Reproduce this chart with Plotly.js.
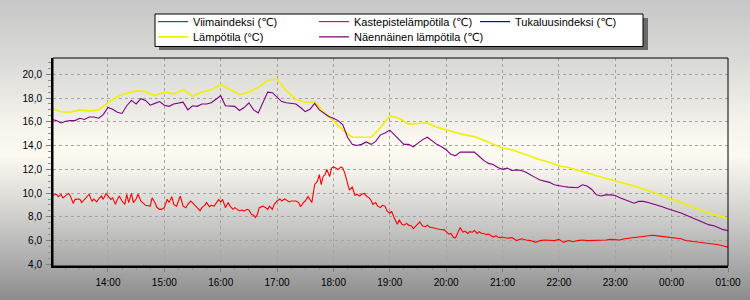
<!DOCTYPE html>
<html>
<head>
<meta charset="utf-8">
<script src="https://cdn.plot.ly/plotly-3.0.1.min.js"></script>
<style>
  html, body { margin:0; padding:0; }
  body { width:750px; height:300px; position:relative; overflow:hidden;
    background: linear-gradient(to bottom, #c6c6c6 0%, #dadad8 20%, #f6f4ec 42%, #fbf9f0 52%, #dddcd8 66%, #b4b4b4 84%, #8c8c8c 100%); }
  #plotbg { position:absolute; left:53px; top:58px; width:675px; height:208px;
    background: linear-gradient(to bottom, #d8d8d6 0%, #eae9e4 25%, #fffcf2 43%, #f3f1ea 55%, #d0d0ce 75%, #a6a6a6 100%); }
  #chart { position:absolute; left:0; top:0; width:750px; height:300px; }
</style>
</head>
<body>
<div id="plotbg"></div>
<div id="chart"></div>
<script>
// Lämpötila (°C) - 10 min steps
const tempTimes = ['13:00','13:10','13:20','13:30','13:40','13:50','14:00','14:10','14:20','14:30','14:40','14:50',
  '15:00','15:10','15:20','15:30','15:40','15:50','16:00','16:10','16:20','16:30','16:40','16:50',
  '17:00','17:10','17:20','17:30','17:40','17:50','18:00','18:10','18:20','18:30','18:40','18:50',
  '19:00','19:10','19:20','19:30','19:40','19:50','20:00','20:10','20:20','20:30','20:40','20:50',
  '21:00','21:10','21:20','21:30','21:40','21:50','22:00','22:10','22:20','22:30','22:40','22:50',
  '23:00','23:10','23:20','23:30','23:40','23:50','00:00','00:10','00:20','00:30','00:40','00:50','01:00'];
const tempValues = [17.1,16.85,16.8,17.0,16.9,17.0,17.6,18.1,18.4,18.6,18.55,18.2,
  18.5,18.35,18.7,18.15,18.5,18.7,19.15,18.75,18.3,18.5,18.9,19.5,
  19.6,18.6,17.9,17.65,17.7,16.8,16.1,15.3,14.7,14.7,14.7,15.5,
  16.5,16.3,15.8,15.85,15.9,15.55,15.3,15.1,14.9,14.75,14.45,14.1,
  13.8,13.65,13.35,13.1,12.8,12.6,12.3,12.15,11.95,11.7,11.45,11.25,
  11.05,10.85,10.6,10.35,10.1,9.8,9.5,9.2,8.9,8.55,8.3,8.1,7.85];

// Näennäinen lämpötila (°C) - 5 min steps
const apparentTimes = ['13:00','13:05','13:10','13:15','13:20','13:25','13:30','13:35','13:40','13:45','13:50','13:55',
  '14:00','14:05','14:10','14:15','14:20','14:25','14:30','14:35','14:40','14:45','14:50','14:55',
  '15:00','15:05','15:10','15:15','15:20','15:25','15:30','15:35','15:40','15:45','15:50','15:55',
  '16:00','16:05','16:10','16:15','16:20','16:25','16:30','16:35','16:40','16:45','16:50','16:55',
  '17:00','17:05','17:10','17:15','17:20','17:25','17:30','17:35','17:40','17:45','17:50','17:55',
  '18:00','18:05','18:10','18:15','18:20','18:25','18:30','18:35','18:40','18:45','18:50','18:55',
  '19:00','19:05','19:10','19:15','19:20','19:25','19:30','19:35','19:40','19:45','19:50','19:55',
  '20:00','20:05','20:10','20:15','20:20','20:25','20:30','20:35','20:40','20:45','20:50','20:55',
  '21:00','21:05','21:10','21:15','21:20','21:25','21:30','21:35','21:40','21:45','21:50','21:55',
  '22:00','22:05','22:10','22:15','22:20','22:25','22:30','22:35','22:40','22:45','22:50','22:55',
  '23:00','23:05','23:10','23:15','23:20','23:25','23:30','23:35','23:40','23:45','23:50','23:55',
  '00:00','00:05','00:10','00:15','00:20','00:25','00:30','00:35','00:40','00:45','00:50','00:55','01:00'];
const apparentValues = [16.2,16.1,15.9,16.05,16.1,16.1,16.3,16.2,16.4,16.4,16.3,16.6,
  17.2,17.05,16.8,16.7,17.35,17.8,17.5,17.95,17.8,17.4,17.55,17.7,
  17.4,17.3,17.5,17.6,17.65,17.0,17.35,17.3,17.5,17.5,17.6,17.9,
  18.2,17.35,17.35,17.3,16.95,17.2,17.6,17.0,16.75,17.7,18.5,18.45,
  18.1,17.7,17.6,17.55,17.5,17.2,16.85,17.05,17.55,17.0,16.7,16.45,
  16.3,16.1,15.75,14.7,14.1,14.0,14.1,14.3,14.1,14.35,14.9,15.05,
  15.3,14.9,14.5,14.1,14.1,13.9,14.2,14.5,14.7,14.4,14.1,13.9,
  13.65,13.25,13.15,13.45,13.45,13.5,13.45,13.1,12.75,12.5,12.4,12.15,
  12.0,12.1,11.9,11.95,11.9,11.75,11.5,11.3,11.1,11.0,10.9,10.7,
  10.6,10.55,10.5,10.5,10.45,10.7,10.6,10.3,9.85,9.75,9.85,9.85,
  9.8,9.6,9.45,9.3,9.15,9.3,9.3,9.2,9.1,8.95,8.85,8.7,
  8.55,8.45,8.32,8.15,7.97,7.82,7.6,7.48,7.32,7.25,7.1,6.92,6.85];

// Kastepistelämpötila (°C)
const dewTimes = ['13:00','13:05','13:07','13:10','13:12','13:15','13:18','13:20','13:23','13:25','13:30','13:32','13:35','13:40','13:43','13:45','13:48','13:50','13:53','13:55','13:58',
  '14:00','14:03','14:05','14:08','14:10','14:12','14:15','14:18','14:20','14:22','14:25','14:27','14:30','14:32','14:35','14:40','14:45','14:47','14:50','14:52','14:55','14:57',
  '15:00','15:03','15:05','15:08','15:10','15:13','15:15','15:17','15:20','15:23','15:25','15:28','15:30','15:33','15:35','15:38','15:40','15:43','15:45','15:48','15:50','15:53','15:55','15:58',
  '16:00','16:02','16:05','16:08','16:10','16:13','16:15','16:18','16:20','16:22','16:25','16:28','16:30','16:33','16:35','16:37','16:39','16:41','16:45','16:48','16:50','16:52','16:55','16:57',
  '17:00','17:03','17:05','17:08','17:10','17:13','17:15','17:18','17:20','17:23','17:25','17:28','17:30','17:33','17:35','17:37','17:40','17:43','17:45','17:47','17:49','17:51','17:53','17:56','17:58',
  '18:00','18:03','18:05','18:08','18:10','18:12','18:15','18:17','18:20','18:23','18:25','18:28','18:30','18:33','18:35','18:38','18:40','18:42','18:45','18:47','18:50','18:52','18:55','18:57',
  '19:00','19:02','19:05','19:08','19:10','19:13','19:15','19:18','19:20','19:23','19:25','19:28','19:30','19:32','19:35','19:38','19:40','19:43','19:45','19:48','19:50','19:53','19:55','19:58',
  '20:00','20:03','20:05','20:08','20:10','20:13','20:15','20:18','20:20','20:23','20:25','20:28','20:30','20:33','20:35','20:38','20:40','20:43','20:45','20:48','20:50','20:53','20:55','20:58',
  '21:00','21:05','21:10','21:15','21:20','21:25','21:30','21:35','21:40','21:45','21:50','21:55',
  '22:00','22:05','22:10','22:15','22:20','22:25','22:30','22:35','22:40','22:45','22:50','22:55',
  '23:00','23:05','23:10','23:15','23:20','23:25','23:30','23:35','23:40','23:45','23:50','23:55',
  '00:00','00:05','00:10','00:15','00:20','00:25','00:30','00:35','00:40','00:45','00:50','00:55','01:00'];
const dewValues = [9.8,9.9,9.7,9.9,9.6,9.75,9.97,9.75,9.13,9.47,9.5,9.2,9.5,9.9,9.3,9.5,9.25,9.5,9.75,9.47,9.97,
  9.75,9.47,9.6,9.05,9.47,9.75,9.33,9.05,9.9,9.2,9.97,9.2,9.5,9.9,9.33,8.97,8.9,9.6,9.2,8.8,8.63,8.63,
  8.77,9.47,9.2,9.7,9.05,8.9,9.33,9.75,8.9,8.77,9.05,9.33,9.2,8.9,8.77,8.5,8.77,8.97,9.2,8.85,8.97,8.9,9.13,9.47,
  9.25,9.47,8.77,9.2,8.9,8.63,8.77,8.57,8.5,8.57,8.5,8.63,8.57,8.2,8.13,7.93,8.2,8.77,8.9,8.77,8.63,8.9,8.63,9.05,
  9.33,9.5,9.33,9.5,9.4,9.25,9.33,9.33,9.33,9.2,8.85,9.2,9.33,9.7,9.47,9.2,10.7,11.0,11.55,10.7,11.4,11.55,11.98,11.4,12.1,
  12.2,12.1,11.98,12.2,12.1,11.7,10.73,10.25,10.5,9.8,9.9,9.75,9.9,9.97,9.75,9.6,9.4,9.05,9.2,8.9,8.77,8.97,8.9,8.5,
  8.3,8.45,7.85,7.37,7.74,7.37,7.3,7.45,7.3,7.23,7.0,7.23,7.37,7.57,7.23,7.17,7.3,7.1,7.1,7.0,7.0,6.95,6.95,6.9,
  6.75,6.55,6.6,6.25,6.25,6.7,7.1,6.7,6.8,6.6,6.75,6.7,6.85,6.6,6.75,6.6,6.6,6.5,6.55,6.4,6.3,6.4,6.3,6.25,
  6.3,6.2,6.25,6.0,6.15,6.05,6.0,5.85,6.0,6.05,6.0,6.0,
  6.1,5.85,6.0,5.9,6.0,6.05,6.0,6.0,6.0,6.0,6.05,6.1,
  6.05,6.05,6.15,6.2,6.2,6.3,6.35,6.4,6.45,6.4,6.35,6.35,
  6.25,6.2,6.15,6.0,5.95,5.95,5.9,5.85,5.8,5.75,5.65,5.55,5.45];

// Series with no values in this period (shown in legend only)
const windChillTimes = [null];
const windChillValues = [null];
const heatIndexTimes = [null];
const heatIndexValues = [null];

function toDate(hm) {
  if (hm === null) return null;
  const h = parseInt(hm.slice(0, 2), 10);
  return (h < 13 ? '2024-05-02 ' : '2024-05-01 ') + hm;
}

const FONT = 'Liberation Sans, Arial, DejaVu Sans, sans-serif';

const traces = [
  { name: 'Viimaindeksi (℃)', x: windChillTimes.map(toDate), y: windChillValues, type: 'scatter', mode: 'lines',
    line: { color: '#008000', width: 1.2 }, legend: 'legend', showlegend: true },
  { name: 'Kastepistelämpötila (℃)', x: dewTimes.map(toDate), y: dewValues, type: 'scatter', mode: 'lines',
    line: { color: '#ff0000', width: 1.1 }, legend: 'legend' },
  { name: 'Tukaluusindeksi (℃)', x: heatIndexTimes.map(toDate), y: heatIndexValues, type: 'scatter', mode: 'lines',
    line: { color: '#0000ff', width: 1.2 }, legend: 'legend', legendwidth: 150, showlegend: true },
  { name: 'Lämpötila (°C)', x: tempTimes.map(toDate), y: tempValues, type: 'scatter', mode: 'lines',
    line: { color: '#f0f000', width: 1.6 }, legend: 'legend2' },
  { name: 'Näennäinen lämpötila (℃)', x: apparentTimes.map(toDate), y: apparentValues, type: 'scatter', mode: 'lines',
    line: { color: '#800080', width: 1.1 }, legend: 'legend2', legendwidth: 150 }
];

function px2x(px) { return (px - 53) / 675; }
function py2y(py) { return 1 + (58 - py) / 208; }

const legendCommon = {
  orientation: 'h', xanchor: 'left', yanchor: 'middle',
  entrywidth: 116, entrywidthmode: 'pixels',
  bgcolor: 'rgba(0,0,0,0)', borderwidth: 0,
  font: { family: FONT, size: 11, color: '#000' },
  itemclick: false, itemdoubleclick: false
};

const layout = {
  width: 750, height: 300,
  margin: { l: 53, r: 22, t: 58, b: 34, pad: 0, autoexpand: false },
  paper_bgcolor: 'rgba(0,0,0,0)',
  plot_bgcolor: 'rgba(0,0,0,0)',
  separators: ', ',
  font: { family: FONT, size: 10, color: '#000' },
  showlegend: true,
  legend: Object.assign({ x: px2x(153), y: py2y(21.6) }, legendCommon),
  legend2: Object.assign({ x: px2x(153), y: py2y(36.9) }, legendCommon),
  xaxis: {
    type: 'date',
    range: ['2024-05-01 13:01:30', '2024-05-02 01:00'],
    tickformat: '%H:%M', dtick: 3600000, tick0: '2024-05-01 00:00',
    ticks: 'outside', ticklen: 4, tickcolor: '#808080', tickwidth: 1,
    ticklabelstandoff: 2,
    minor: { dtick: 900000, ticks: 'outside', ticklen: 2, tickcolor: '#909090', showgrid: false },
    showgrid: true, gridcolor: '#a4a4a4', griddash: 'dot', gridwidth: 1,
    showline: true, linecolor: '#000', linewidth: 2,
    zeroline: false, fixedrange: true,
    tickfont: { family: FONT, size: 10, color: '#000' }
  },
  yaxis: {
    range: [3.86, 21.37],
    dtick: 2, tick0: 0, tickformat: '.1f',
    ticks: 'outside', ticklen: 5, tickcolor: '#808080', tickwidth: 1,
    ticklabelstandoff: 2,
    minor: { dtick: 0.5, ticks: 'outside', ticklen: 3, tickcolor: '#909090', showgrid: false },
    showgrid: true, gridcolor: '#a4a4a4', griddash: 'dot', gridwidth: 1,
    showline: true, linecolor: '#000', linewidth: 2,
    zeroline: false, fixedrange: true,
    tickfont: { family: FONT, size: 10, color: '#000' }
  },
  shapes: [
    { type: 'rect', xref: 'paper', yref: 'paper', x0: 0, x1: 1, y0: 0, y1: 1,
      line: { color: '#000', width: 1 }, fillcolor: 'rgba(0,0,0,0)', layer: 'above' },
    { type: 'rect', xref: 'paper', yref: 'paper', x0: px2x(159), x1: px2x(648), y0: py2y(50), y1: py2y(18),
      line: { width: 0 }, fillcolor: '#6a6a6a', layer: 'above' },
    { type: 'rect', xref: 'paper', yref: 'paper', x0: px2x(155), x1: px2x(643), y0: py2y(46.5), y1: py2y(14),
      line: { color: '#000', width: 1 }, fillcolor: '#ffffff', layer: 'above' }
  ]
};

Plotly.newPlot('chart', traces, layout, { displayModeBar: false, staticPlot: true });
</script>
</body>
</html>
